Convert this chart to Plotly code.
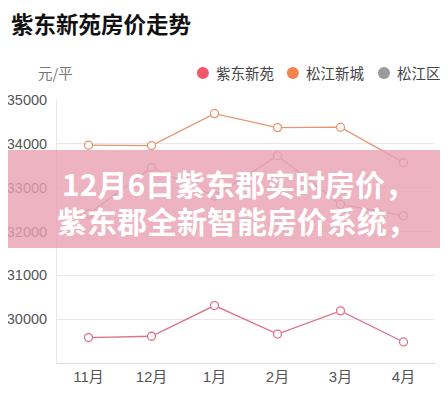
import plotly.graph_objects as go

MONTHS = ["11月", "12月", "1月", "2月", "3月", "4月"]

ZIDONG_XINYUAN = [29580, 29610, 30310, 29660, 30190, 29480]
SONGJIANG_XINCHENG = [33970, 33960, 34690, 34370, 34380, 33570]
SONGJIANG_QU = [32400, 33460, 32810, 33730, 32620, 32360]

Y_TICKS = [30000, 31000, 32000, 33000, 34000, 35000]

SERIES = [
    {"name": "紫东新苑", "values": ZIDONG_XINYUAN, "line": "#e07086", "dot": "#f1566b"},
    {"name": "松江新城", "values": SONGJIANG_XINCHENG, "line": "#e8956e", "dot": "#f5834f"},
    {"name": "松江区", "values": SONGJIANG_QU, "line": "#a8a8a8", "dot": "#9a9a9a"},
]

FONT = "Noto Sans CJK SC, Noto Sans, sans-serif"
TICK_FONT = "Liberation Sans, Noto Sans CJK SC, sans-serif"

fig = go.Figure()

for s in SERIES:
    fig.add_trace(go.Scatter(
        x=MONTHS,
        y=s["values"],
        mode="lines+markers",
        name=s["name"],
        line=dict(color=s["line"], width=1.3),
        marker=dict(size=8, color="white", line=dict(color=s["line"], width=1.3)),
        showlegend=False,
    ))

# page has an 8px body margin, so the figure is a bit smaller than the window
fig.update_layout(
    width=440,
    height=392,
    margin=dict(l=49, r=13, t=92, b=37, autoexpand=False),
    paper_bgcolor="white",
    plot_bgcolor="white",
    font=dict(family=FONT, color="#666666", size=13),
    title=dict(
        text="<b>紫东新苑房价走势</b>",
        x=0.007,
        xanchor="left",
        y=0.957,
        yanchor="middle",
        yref="container",
        font=dict(size=22.5, color="#111111", family=FONT),
    ),
    xaxis=dict(
        type="category",
        showgrid=False,
        showline=True,
        linecolor="#dddddd",
        ticks="",
        tickfont=dict(size=15, color="#555555", family=TICK_FONT),
        range=[-0.5, 5.5],
        automargin=False,
    ),
    yaxis=dict(
        range=[29000, 35000],
        tickvals=Y_TICKS,
        ticktext=[str(v) for v in Y_TICKS],
        showgrid=True,
        gridcolor="#e8e8e8",
        showline=True,
        linecolor="#e8e8e8",
        zeroline=False,
        ticks="",
        ticklabelstandoff=6,
        tickfont=dict(size=14.5, color="#555555", family=TICK_FONT),
        automargin=False,
    ),
)

# legend drawn as dots and labels above the plot
legend_x = [0.386, 0.624, 0.865]
for s, lx in zip(SERIES, legend_x):
    fig.add_shape(
        type="circle",
        xref="paper", yref="paper",
        xsizemode="pixel", ysizemode="pixel",
        xanchor=lx, yanchor=1.103,
        x0=-6, x1=6, y0=-6, y1=6,
        fillcolor=s["dot"],
        line=dict(width=0),
    )
    fig.add_annotation(
        text=s["name"],
        xref="paper", yref="paper",
        x=lx + 0.029, y=1.103,
        xanchor="left", yanchor="middle",
        showarrow=False,
        font=dict(size=14.5, color="#444444"),
    )

fig.add_annotation(
    text="元/平",
    xref="paper", yref="paper",
    x=-0.003, y=1.103,
    xanchor="center", yanchor="middle",
    showarrow=False,
    font=dict(size=14.5, color="#777777"),
)

# pink banner laid over the chart
fig.add_shape(
    type="rect",
    xref="paper", yref="paper",
    x0=-0.14, x1=1.05, y0=0.437, y1=0.810,
    fillcolor="rgba(232,160,178,0.8)",
    line=dict(width=0),
    layer="above",
)
fig.add_annotation(
    text="<b>12月6日紫东郡实时房价，</b>",
    xref="paper", yref="paper",
    x=0.008, y=0.684,
    xanchor="left", yanchor="middle",
    showarrow=False,
    font=dict(size=30, color="white", family=FONT),
)
fig.add_annotation(
    text="<b>紫东郡全新智能房价系统，</b>",
    xref="paper", yref="paper",
    x=-0.005, y=0.544,
    xanchor="left", yanchor="middle",
    showarrow=False,
    font=dict(size=30, color="white", family=FONT),
)

fig.write_html("out.html")
